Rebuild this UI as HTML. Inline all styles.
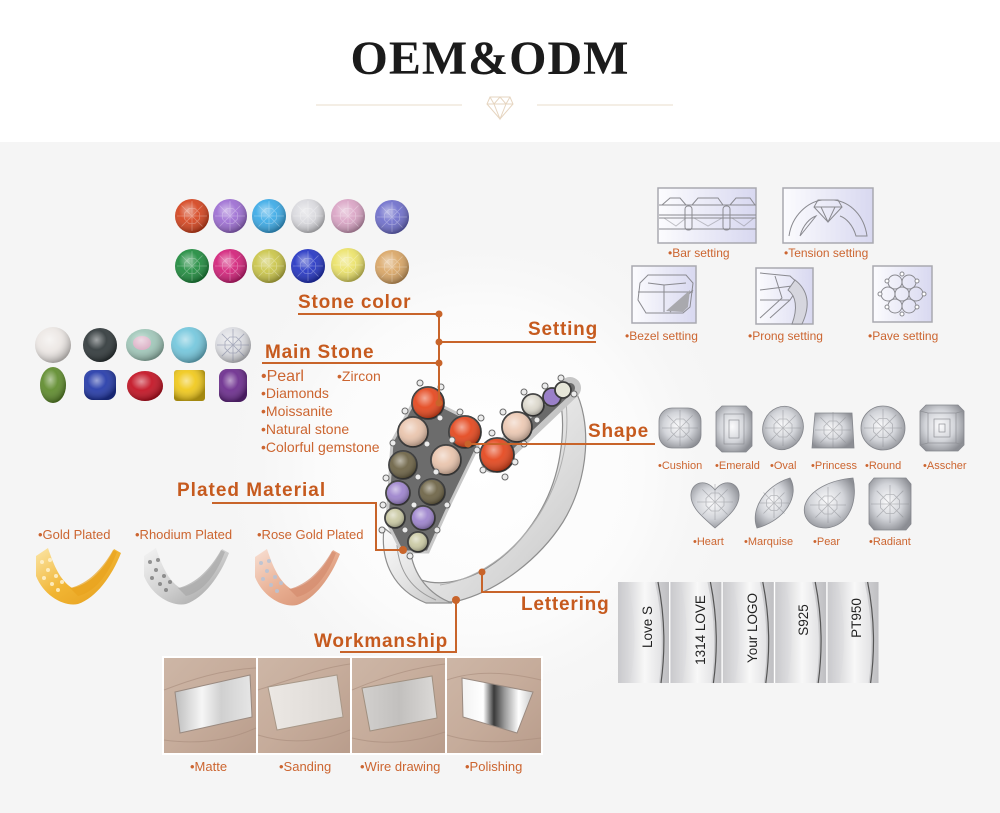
<!DOCTYPE html>
<html><head><meta charset="utf-8">
<style>
html,body{margin:0;padding:0;background:#f5f5f5;}
svg{display:block;}
text{font-family:"Liberation Sans",sans-serif;}
.h{font-size:19px;font-weight:bold;fill:#c65a1e;letter-spacing:0.8px;}
.l{fill:#cc6530;}
.cn{stroke:#c8642a;stroke-width:2;fill:none;}
.dt{fill:#c8642a;}
.fl{fill:none;stroke:#8f9196;stroke-width:0.7;}
.sb{fill:url(#box);stroke:#a9a9b0;stroke-width:1.5;}
.sd{fill:none;stroke:#8a8a90;stroke-width:1;}
</style></head><body>
<svg width="1000" height="813" viewBox="0 0 1000 813" xmlns="http://www.w3.org/2000/svg" xmlns:xlink="http://www.w3.org/1999/xlink">
<defs>
 <radialGradient id="glow" cx="480" cy="470" r="270" gradientUnits="userSpaceOnUse">
  <stop offset="0" stop-color="#ffffff"/><stop offset="0.6" stop-color="#fbfbfb"/><stop offset="1" stop-color="#f5f5f5" stop-opacity="0"/>
 </radialGradient>
 <radialGradient id="shine" cx="0.4" cy="0.35" r="0.65">
  <stop offset="0" stop-color="#fff" stop-opacity="0.55"/>
  <stop offset="0.45" stop-color="#fff" stop-opacity="0.08"/>
  <stop offset="1" stop-color="#000" stop-opacity="0.32"/>
 </radialGradient>
 <radialGradient id="diam" cx="0.45" cy="0.45" r="0.62">
  <stop offset="0" stop-color="#fbfbfc"/><stop offset="0.55" stop-color="#d2d4d9"/><stop offset="1" stop-color="#8c8e94"/>
 </radialGradient>
 <linearGradient id="box" x1="0" x2="1"><stop offset="0" stop-color="#fcfcfe"/><stop offset="1" stop-color="#d8d8f0"/></linearGradient>
 <linearGradient id="silv" x1="0" y1="0" x2="1" y2="1"><stop offset="0" stop-color="#fbfbfb"/><stop offset="0.5" stop-color="#e4e4e4"/><stop offset="1" stop-color="#c4c4c4"/></linearGradient>
 <linearGradient id="gold" x1="0" y1="0" x2="1" y2="1"><stop offset="0" stop-color="#fbe6a8"/><stop offset="0.5" stop-color="#f1b533"/><stop offset="1" stop-color="#e49c1c"/></linearGradient>
 <linearGradient id="rhod" x1="0" y1="0" x2="1" y2="1"><stop offset="0" stop-color="#f4f4f4"/><stop offset="0.5" stop-color="#d0d0d0"/><stop offset="1" stop-color="#9c9c9c"/></linearGradient>
 <linearGradient id="rose" x1="0" y1="0" x2="1" y2="1"><stop offset="0" stop-color="#f8e0d4"/><stop offset="0.5" stop-color="#e8ad90"/><stop offset="1" stop-color="#d08a6c"/></linearGradient>
 <linearGradient id="skin" x1="0" y1="0" x2="1" y2="1"><stop offset="0" stop-color="#cdb6a6"/><stop offset="0.5" stop-color="#c6ac9b"/><stop offset="1" stop-color="#b99d8c"/></linearGradient>
 <linearGradient id="matte" x1="0" x2="1"><stop offset="0" stop-color="#bdbdbd"/><stop offset="0.35" stop-color="#f6f6f6"/><stop offset="0.6" stop-color="#d0d0d0"/><stop offset="1" stop-color="#e6e6e6"/></linearGradient>
 <linearGradient id="sand" x1="0" x2="1"><stop offset="0" stop-color="#ece8e4"/><stop offset="1" stop-color="#dcd8d4"/></linearGradient>
 <linearGradient id="wire" x1="0" x2="1"><stop offset="0" stop-color="#d2d0ce"/><stop offset="0.5" stop-color="#c2c0be"/><stop offset="1" stop-color="#dcdad8"/></linearGradient>
 <linearGradient id="pol" x1="0" x2="1"><stop offset="0" stop-color="#f2f2f2"/><stop offset="0.3" stop-color="#ffffff"/><stop offset="0.45" stop-color="#3a3a3a"/><stop offset="0.6" stop-color="#9a9a9a"/><stop offset="0.8" stop-color="#ffffff"/><stop offset="1" stop-color="#c8c8c8"/></linearGradient>
 <linearGradient id="lbg" x1="0" x2="1"><stop offset="0" stop-color="#c9c9cc"/><stop offset="0.4" stop-color="#e6e6e8"/><stop offset="1" stop-color="#bfbfc2"/></linearGradient>
 <linearGradient id="lband" x1="0" x2="1"><stop offset="0" stop-color="#d8d8da"/><stop offset="0.5" stop-color="#f8f8f8"/><stop offset="1" stop-color="#e2e2e4"/></linearGradient>
 <g id="fac" fill="none">
  <path d="M-1 0L1 0M0 -1L0 1M-.7 -.7L.7 .7M-.7 .7L.7 -.7M-.5 -.2L-.2 -.5L.2 -.5L.5 -.2L.5 .2L.2 .5L-.2 .5L-.5 .2Z" vector-effect="non-scaling-stroke" stroke-width="0.8"/>
 </g>
</defs>

<!-- backgrounds -->
<rect x="0" y="0" width="1000" height="142" fill="#ffffff"/>
<rect x="0" y="142" width="1000" height="671" fill="#f5f5f5"/>
<rect x="150" y="250" width="660" height="450" fill="url(#glow)"/>

<!-- header -->
<text x="490" y="74" text-anchor="middle" style="font-family:'Liberation Serif',serif;font-weight:bold;font-size:48px;letter-spacing:1px;fill:#1b1b1b;">OEM&amp;ODM</text>
<line x1="316" y1="105" x2="462" y2="105" stroke="#eadccb" stroke-width="1"/>
<line x1="537" y1="105" x2="673" y2="105" stroke="#eadccb" stroke-width="1"/>
<g fill="none" stroke="#e6d5c0" stroke-width="1">
 <path d="M490 97L510 97L513 104L500 119L487 104Z"/>
 <path d="M487 104L513 104M490 97L494 104L500 97L506 104L510 97M494 104L500 119L506 104"/>
</g>

<!-- stone colors -->
<g>
 <circle cx="192" cy="216" r="17" fill="#d4421c"/><circle cx="230" cy="216" r="17" fill="#9c6cd2"/>
 <circle cx="269" cy="216" r="17" fill="#39a9e6"/><circle cx="308" cy="216" r="17" fill="#d9d9de"/>
 <circle cx="348" cy="216" r="17" fill="#d9a3c4"/><circle cx="392" cy="217" r="17" fill="#6e6ecb"/>
 <circle cx="192" cy="266" r="17" fill="#1d8a3c"/><circle cx="230" cy="266" r="17" fill="#d21f78"/>
 <circle cx="269" cy="266" r="17" fill="#c9c447"/><circle cx="308" cy="266" r="17" fill="#2233c2"/>
 <circle cx="348" cy="265" r="17" fill="#ebe267"/><circle cx="392" cy="267" r="17" fill="#d9a564"/>
 <g fill="url(#shine)">
  <circle cx="192" cy="216" r="17"/><circle cx="230" cy="216" r="17"/><circle cx="269" cy="216" r="17"/><circle cx="308" cy="216" r="17"/><circle cx="348" cy="216" r="17"/><circle cx="392" cy="217" r="17"/>
  <circle cx="192" cy="266" r="17"/><circle cx="230" cy="266" r="17"/><circle cx="269" cy="266" r="17"/><circle cx="308" cy="266" r="17"/><circle cx="348" cy="265" r="17"/><circle cx="392" cy="267" r="17"/>
 </g>
 <g stroke="#ffffff" stroke-opacity="0.3">
  <use xlink:href="#fac" transform="translate(192 216) scale(15)"/><use xlink:href="#fac" transform="translate(230 216) scale(15)"/><use xlink:href="#fac" transform="translate(269 216) scale(15)"/><use xlink:href="#fac" transform="translate(308 216) scale(15)"/><use xlink:href="#fac" transform="translate(348 216) scale(15)"/><use xlink:href="#fac" transform="translate(392 217) scale(15)"/>
  <use xlink:href="#fac" transform="translate(192 266) scale(15)"/><use xlink:href="#fac" transform="translate(230 266) scale(15)"/><use xlink:href="#fac" transform="translate(269 266) scale(15)"/><use xlink:href="#fac" transform="translate(308 266) scale(15)"/><use xlink:href="#fac" transform="translate(348 265) scale(15)"/><use xlink:href="#fac" transform="translate(392 267) scale(15)"/>
 </g>
</g>

<!-- main stones -->
<g>
 <circle cx="53" cy="345" r="18" fill="#ece7e4"/><circle cx="53" cy="345" r="18" fill="url(#shine)"/>
 <circle cx="100" cy="345" r="17" fill="#2f3739"/><circle cx="100" cy="345" r="17" fill="url(#shine)"/>
 <ellipse cx="145" cy="345" rx="19" ry="16" fill="#9fc6b8"/><ellipse cx="142" cy="343" rx="9" ry="7" fill="#e8a6c6" opacity="0.8"/><ellipse cx="145" cy="345" rx="19" ry="16" fill="url(#shine)"/>
 <circle cx="189" cy="345" r="18" fill="#72c6dc"/><circle cx="189" cy="345" r="18" fill="url(#shine)"/>
 <circle cx="233" cy="345" r="18" fill="#dcdde2"/><circle cx="233" cy="345" r="18" fill="url(#shine)"/>
 <use xlink:href="#fac" transform="translate(233 345) scale(16)" stroke="#6b7290" stroke-opacity="0.5"/>
 <ellipse cx="53" cy="385" rx="13" ry="18" fill="#5d8a2a"/><ellipse cx="53" cy="385" rx="13" ry="18" fill="url(#shine)"/>
 <rect x="84" y="370" width="32" height="30" rx="9" fill="#2238a8"/><rect x="84" y="370" width="32" height="30" rx="9" fill="url(#shine)"/>
 <ellipse cx="145" cy="386" rx="18" ry="15" fill="#c20f20"/><ellipse cx="145" cy="386" rx="18" ry="15" fill="url(#shine)"/>
 <rect x="174" y="370" width="31" height="31" rx="3" fill="#f0c818"/><rect x="174" y="370" width="31" height="31" rx="3" fill="url(#shine)"/>
 <rect x="219" y="369" width="28" height="33" rx="8" fill="#6a2a8c"/><rect x="219" y="369" width="28" height="33" rx="8" fill="url(#shine)"/>
</g>

<!-- main stone text -->
<text class="h" x="298" y="308">Stone color</text>
<text class="h" x="265" y="358">Main Stone</text>
<text class="l" x="261" y="381" style="font-size:16px">•Pearl</text>
<text class="l" x="337" y="381" style="font-size:14px">•Zircon</text>
<text class="l" x="261" y="398" style="font-size:14px">•Diamonds</text>
<text class="l" x="261" y="416" style="font-size:14px">•Moissanite</text>
<text class="l" x="261" y="434" style="font-size:14px">•Natural stone</text>
<text class="l" x="261" y="452" style="font-size:14px">•Colorful gemstone</text>
<text class="h" x="177" y="496" style="letter-spacing:1px">Plated Material</text>
<text class="l" x="38" y="539" style="font-size:13px">•Gold Plated</text>
<text class="l" x="135" y="539" style="font-size:13px">•Rhodium Plated</text>
<text class="l" x="257" y="539" style="font-size:13px">•Rose Gold Plated</text>

<!-- plated rings -->
<g>
 <path d="M36 556 L48 548 C54 566 60 580 72 588 C90 585 105 568 114 549 L121 553 C112 576 96 598 78 604 C64 607 44 596 36 576 Z" fill="url(#gold)"/>
 <path d="M70 588 C88 584 103 568 113 550 L117 552 C108 575 95 592 78 596 Z" fill="#e8a21e" opacity="0.7"/>
 <g fill="#fff3d0" opacity="0.85"><circle cx="42" cy="562" r="2"/><circle cx="48" cy="570" r="2"/><circle cx="44" cy="578" r="2"/><circle cx="52" cy="584" r="2"/><circle cx="56" cy="576" r="2"/><circle cx="50" cy="560" r="2"/><circle cx="58" cy="590" r="2"/><circle cx="62" cy="582" r="2"/></g>
 <g transform="translate(108 0)">
  <path d="M36 556 L48 548 C54 566 60 580 72 588 C90 585 105 568 114 549 L121 553 C112 576 96 598 78 604 C64 607 44 596 36 576 Z" fill="url(#rhod)"/>
  <path d="M70 588 C88 584 103 568 113 550 L117 552 C108 575 95 592 78 596 Z" fill="#a8a8a8" opacity="0.7"/>
  <g fill="#6e6e6e" opacity="0.7"><circle cx="42" cy="562" r="2"/><circle cx="48" cy="570" r="2"/><circle cx="44" cy="578" r="2"/><circle cx="52" cy="584" r="2"/><circle cx="56" cy="576" r="2"/><circle cx="50" cy="560" r="2"/><circle cx="58" cy="590" r="2"/><circle cx="62" cy="582" r="2"/></g>
 </g>
 <g transform="translate(219 1)">
  <path d="M36 556 L48 548 C54 566 60 580 72 588 C90 585 105 568 114 549 L121 553 C112 576 96 598 78 604 C64 607 44 596 36 576 Z" fill="url(#rose)"/>
  <path d="M70 588 C88 584 103 568 113 550 L117 552 C108 575 95 592 78 596 Z" fill="#d48c6e" opacity="0.7"/>
  <g fill="#b7c3d6" opacity="0.85"><circle cx="42" cy="562" r="2"/><circle cx="48" cy="570" r="2"/><circle cx="44" cy="578" r="2"/><circle cx="52" cy="584" r="2"/><circle cx="56" cy="576" r="2"/><circle cx="50" cy="560" r="2"/><circle cx="58" cy="590" r="2"/><circle cx="62" cy="582" r="2"/></g>
 </g>
</g>

<!-- setting boxes -->
<g>
 <rect class="sb" x="658" y="188" width="98" height="55"/>
 <g class="sd">
  <path d="M659 205H756M659 215H756M659 218H756M659 229H756"/>
  <path d="M662 205L670 198L680 198L686 205M692 205L698 198L718 198L723 205M730 205L736 198L750 198L755 205"/>
  <path d="M664 218L676 226L686 218M694 218L708 226L722 218M732 218L744 226L754 218" stroke-opacity="0.5"/>
  <rect x="685" y="206" width="7" height="24" rx="3"/><rect x="723" y="206" width="7" height="24" rx="3"/>
 </g>
 <rect class="sb" x="783" y="188" width="90" height="55"/>
 <g class="sd">
  <path d="M789 236 C792 215 808 202 822 200 M834 200 C850 202 864 215 867 236 L856 236 C853 225 846 218 840 216 M816 216 C810 218 803 225 800 236 Z"/>
  <path d="M818 200L838 200L842 207L828 222L814 207Z M814 207H842 M821 207L828 222L835 207"/>
 </g>
 <rect class="sb" x="632" y="266" width="64" height="57"/>
 <g class="sd">
  <path d="M640 283L648 275L686 275L693 283L690 307L683 313L646 313L638 300Z"/>
  <path d="M638 292H693M648 283L664 285L664 312M664 285L686 283 M670 312L693 290" />
  <path d="M666 311L690 290L688 307L683 312Z" fill="#a9a9ae" stroke="none"/>
 </g>
 <rect class="sb" x="756" y="268" width="57" height="56"/>
 <g class="sd">
  <path d="M760 273L790 276L800 285L790 300L770 318 M760 290L800 285 M775 276L782 298L760 318 M790 300L760 300"/>
  <path d="M795 280C808 290 811 305 802 324 L792 324 C798 308 796 296 788 290Z" fill="#d6d6de"/>
 </g>
 <rect class="sb" x="873" y="266" width="59" height="56"/>
 <g class="sd">
  <circle cx="902" cy="294" r="7"/><circle cx="916" cy="294" r="7"/><circle cx="888" cy="294" r="7"/>
  <circle cx="909" cy="282" r="7"/><circle cx="895" cy="282" r="7"/><circle cx="909" cy="306" r="7"/><circle cx="895" cy="306" r="7"/>
  <g fill="#fff"><circle cx="902" cy="274" r="2"/><circle cx="917" cy="281" r="2"/><circle cx="887" cy="281" r="2"/><circle cx="924" cy="294" r="2"/><circle cx="880" cy="294" r="2"/><circle cx="917" cy="307" r="2"/><circle cx="887" cy="307" r="2"/><circle cx="902" cy="314" r="2"/></g>
 </g>
 <text class="l" x="668" y="257" style="font-size:12px">•Bar setting</text>
 <text class="l" x="784" y="257" style="font-size:12px">•Tension setting</text>
 <text class="l" x="625" y="340" style="font-size:12px">•Bezel setting</text>
 <text class="l" x="748" y="340" style="font-size:12px">•Prong setting</text>
 <text class="l" x="868" y="340" style="font-size:12px">•Pave setting</text>
</g>
<text class="h" x="528" y="335">Setting</text>
<text class="h" x="588" y="437">Shape</text>

<!-- shapes -->
<g stroke="#84868c" stroke-width="0.8" fill="url(#diam)">
 <rect x="659" y="408" width="42" height="40" rx="13"/>
 <polygon points="722,406 746,406 752,412 752,446 746,452 722,452 716,446 716,412"/>
 <ellipse cx="783" cy="428" rx="20" ry="22" transform="rotate(25 783 428)"/>
 <polygon points="815,413 852,413 854,448 812,448"/>
 <circle cx="883" cy="428" r="22"/>
 <polygon points="926,405 958,405 964,411 964,445 958,451 926,451 920,445 920,411"/>
 <path d="M715 528 C700 515 690 506 691 494 C692 482 706 478 715 490 C724 478 738 482 739 494 C740 506 730 515 715 528 Z"/>
 <path d="M790 478 C800 495 786 520 757 528 C750 510 764 486 790 478 Z"/>
 <path d="M853 478 C858 500 850 526 826 528 C809 528 802 516 805 505 C810 490 830 480 853 478 Z"/>
 <polygon points="874,478 906,478 911,484 911,524 906,530 874,530 869,524 869,484"/>
</g>
<g stroke="#8a8c92" stroke-opacity="0.55">
 <use xlink:href="#fac" transform="translate(680 428) scale(18)"/>
 <use xlink:href="#fac" transform="translate(783 428) scale(18)"/>
 <use xlink:href="#fac" transform="translate(833 430) scale(18)"/>
 <use xlink:href="#fac" transform="translate(883 428) scale(19)"/>
 <use xlink:href="#fac" transform="translate(715 502) scale(18)"/>
 <use xlink:href="#fac" transform="translate(774 503) scale(15)"/>
 <use xlink:href="#fac" transform="translate(828 505) scale(18)"/>
 <use xlink:href="#fac" transform="translate(890 504) scale(19)"/>
</g>
<g class="fl">
 <rect x="724" y="414" width="20" height="30"/><rect x="729" y="420" width="10" height="18"/>
 <rect x="928" y="413" width="28" height="30"/><rect x="934" y="419" width="16" height="18"/><rect x="939" y="424" width="6" height="8"/>
 <path d="M920 411L928 413M964 411L956 413M920 445L928 443M964 445L956 443"/>
</g>
<g class="l" style="font-size:11px">
 <text x="658" y="469">•Cushion</text><text x="715" y="469">•Emerald</text><text x="770" y="469">•Oval</text>
 <text x="811" y="469">•Princess</text><text x="865" y="469">•Round</text><text x="923" y="469">•Asscher</text>
 <text x="693" y="545">•Heart</text><text x="744" y="545">•Marquise</text><text x="813" y="545">•Pear</text><text x="869" y="545">•Radiant</text>
</g>

<!-- ring -->
<g>
 <!-- main band (right side sweeping down) -->
 <path d="M574 388 C592 420 590 478 563 522 C540 558 500 590 458 601 C436 605 414 598 402 584 L410 574 C426 586 452 586 480 572 C520 550 552 506 560 455 C564 430 563 410 559 395 Z" fill="url(#silv)" stroke="#8e8e8e" stroke-width="1.2"/>
 <path d="M566 402 C572 460 548 520 500 558 C480 573 460 582 440 585" fill="none" stroke="#b0b0b0" stroke-width="1"/>
 <!-- left shank -->
 <path d="M384 528 C380 562 394 590 426 603 L452 603 C430 595 413 576 410 548 Z" fill="url(#silv)" stroke="#8e8e8e" stroke-width="1.2"/>
 <path d="M397 545 C399 572 412 590 436 600" fill="none" stroke="#9a9a9a" stroke-width="1"/>
 <!-- right prong bar -->
 <line x1="492" y1="462" x2="570" y2="388" stroke="#c6c6c6" stroke-width="22" stroke-linecap="round"/>
 <line x1="492" y1="462" x2="570" y2="388" stroke="#6a6a6a" stroke-width="10" stroke-linecap="round"/>
 <!-- head -->
 <polygon points="418,394 470,420 478,446 446,512 428,552 402,552 387,522 392,442" fill="#6c6c6c" stroke="#c8c8c8" stroke-width="3"/>
 <g stroke="#3c3c3c" stroke-width="1.8">
  <circle cx="428" cy="403" r="16" fill="#e4441a"/><circle cx="413" cy="432" r="15" fill="#e9c3ab"/>
  <circle cx="403" cy="465" r="14" fill="#6b6143"/><circle cx="398" cy="493" r="12" fill="#9c82cc"/>
  <circle cx="395" cy="518" r="10" fill="#c9c8a2"/><circle cx="418" cy="542" r="10" fill="#c9c8a2"/>
  <circle cx="465" cy="432" r="16" fill="#e4441a"/><circle cx="446" cy="460" r="15" fill="#e9c3ab"/>
  <circle cx="432" cy="492" r="13" fill="#6b6143"/><circle cx="423" cy="518" r="12" fill="#9c82cc"/>
  <circle cx="497" cy="455" r="17" fill="#e4441a"/><circle cx="517" cy="427" r="15" fill="#ecc8b2"/>
  <circle cx="533" cy="405" r="11" fill="#dcd8cc"/><circle cx="552" cy="397" r="9" fill="#9a80c8"/>
  <circle cx="563" cy="390" r="8" fill="#e6e6d8"/>
 </g>
 <g fill="url(#shine)">
  <circle cx="428" cy="403" r="16"/><circle cx="413" cy="432" r="15"/><circle cx="403" cy="465" r="14"/><circle cx="398" cy="493" r="12"/><circle cx="395" cy="518" r="10"/><circle cx="418" cy="542" r="10"/>
  <circle cx="465" cy="432" r="16"/><circle cx="446" cy="460" r="15"/><circle cx="432" cy="492" r="13"/><circle cx="423" cy="518" r="12"/>
  <circle cx="497" cy="455" r="17"/><circle cx="517" cy="427" r="15"/><circle cx="533" cy="405" r="11"/>
 </g>
 <g fill="#ececec" stroke="#6a6a6a" stroke-width="1">
  <circle cx="420" cy="383" r="3"/><circle cx="441" cy="387" r="3"/><circle cx="405" cy="411" r="3"/><circle cx="440" cy="418" r="3"/>
  <circle cx="393" cy="443" r="3"/><circle cx="427" cy="444" r="3"/><circle cx="386" cy="478" r="3"/><circle cx="418" cy="477" r="3"/>
  <circle cx="383" cy="505" r="3"/><circle cx="382" cy="530" r="3"/><circle cx="405" cy="530" r="3"/><circle cx="410" cy="556" r="3"/>
  <circle cx="460" cy="412" r="3"/><circle cx="481" cy="418" r="3"/><circle cx="452" cy="440" r="3"/><circle cx="477" cy="450" r="3"/>
  <circle cx="436" cy="472" r="3"/><circle cx="447" cy="505" r="3"/><circle cx="437" cy="530" r="3"/><circle cx="414" cy="505" r="3"/>
  <circle cx="492" cy="433" r="3"/><circle cx="483" cy="470" r="3"/><circle cx="505" cy="477" r="3"/><circle cx="515" cy="462" r="3"/>
  <circle cx="524" cy="444" r="3"/><circle cx="503" cy="412" r="3"/><circle cx="537" cy="420" r="3"/><circle cx="524" cy="392" r="3"/>
  <circle cx="545" cy="386" r="3"/><circle cx="561" cy="378" r="3"/><circle cx="574" cy="394" r="3"/>
 </g>
</g>

<!-- connectors -->
<g class="cn">
 <path d="M298 314H439V403"/>
 <path d="M439 342H596"/>
 <path d="M262 363H439"/>
 <path d="M212 503H376V550H403"/>
 <path d="M468 444H655"/>
 <path d="M482 572V592H600"/>
 <path d="M456 600V652H340"/>
</g>
<g class="dt">
 <circle cx="439" cy="314" r="3.5"/><circle cx="439" cy="342" r="3.5"/><circle cx="439" cy="363" r="3.5"/><circle cx="439" cy="403" r="3.5"/>
 <circle cx="403" cy="550" r="4"/><circle cx="468" cy="444" r="3.5"/><circle cx="482" cy="572" r="3.5"/><circle cx="456" cy="600" r="4"/>
</g>

<!-- lettering -->
<text class="h" x="521" y="610">Lettering</text>
<g>
 <rect x="618" y="582" width="261" height="101" fill="#ffffff"/>
 <g id="lp">
  <rect x="618" y="582" width="51" height="101" fill="url(#lbg)"/>
  <path d="M628 582 Q640 632 630 683 L659 683 Q666 632 655 582 Z" fill="url(#lband)"/>
  <path d="M658 582 Q668 632 661 683" fill="none" stroke="#555" stroke-width="1.2"/>
 </g>
 <use xlink:href="#lp" x="52.4"/><use xlink:href="#lp" x="104.8"/><use xlink:href="#lp" x="157.2"/><use xlink:href="#lp" x="209.6"/>
 <g style="font-size:13.5px;fill:#222" text-anchor="middle">
  <text transform="translate(652 627) rotate(-90)">Love S</text>
  <text transform="translate(705 630) rotate(-90)">1314 LOVE</text>
  <text transform="translate(757 628) rotate(-90)">Your LOGO</text>
  <text transform="translate(808 620) rotate(-90)">S925</text>
  <text transform="translate(861 618) rotate(-90)">PT950</text>
 </g>
</g>

<!-- workmanship -->
<text class="h" x="314" y="647">Workmanship</text>
<g>
 <rect x="162" y="656" width="381" height="99" fill="#ffffff"/>
 <rect x="164" y="658" width="92" height="95" fill="url(#skin)"/>
 <rect x="258" y="658" width="92" height="95" fill="url(#skin)"/>
 <rect x="352" y="658" width="93" height="95" fill="url(#skin)"/>
 <rect x="447" y="658" width="94" height="95" fill="url(#skin)"/>
 <g fill="none" stroke="#a88c7c" stroke-width="1" opacity="0.6">
  <path d="M164 690 C190 680 220 670 256 668 M164 740 C200 745 230 740 256 728"/>
  <path d="M258 690 C290 680 320 668 350 664 M258 735 C290 745 320 742 350 730"/>
  <path d="M352 690 C380 678 410 668 445 664 M352 738 C385 746 415 742 445 732"/>
  <path d="M447 680 C470 672 500 670 541 680 M447 735 C480 745 510 742 541 738"/>
 </g>
 <polygon points="175,692 250,675 252,717 180,733" fill="url(#matte)" stroke="#9a8a80" stroke-width="1"/>
 <polygon points="268,687 337,675 343,717 277,730" fill="url(#sand)" stroke="#a89888" stroke-width="1"/>
 <polygon points="362,688 432,676 437,718 370,731" fill="url(#wire)" stroke="#a09080" stroke-width="1"/>
 <polygon points="462,678 533,692 517,733 463,717" fill="url(#pol)" stroke="#9a8a80" stroke-width="1"/>
</g>
<g class="l" style="font-size:13px">
 <text x="190" y="771">•Matte</text><text x="279" y="771">•Sanding</text>
 <text x="360" y="771">•Wire drawing</text><text x="465" y="771">•Polishing</text>
</g>
</svg>
</body></html>
